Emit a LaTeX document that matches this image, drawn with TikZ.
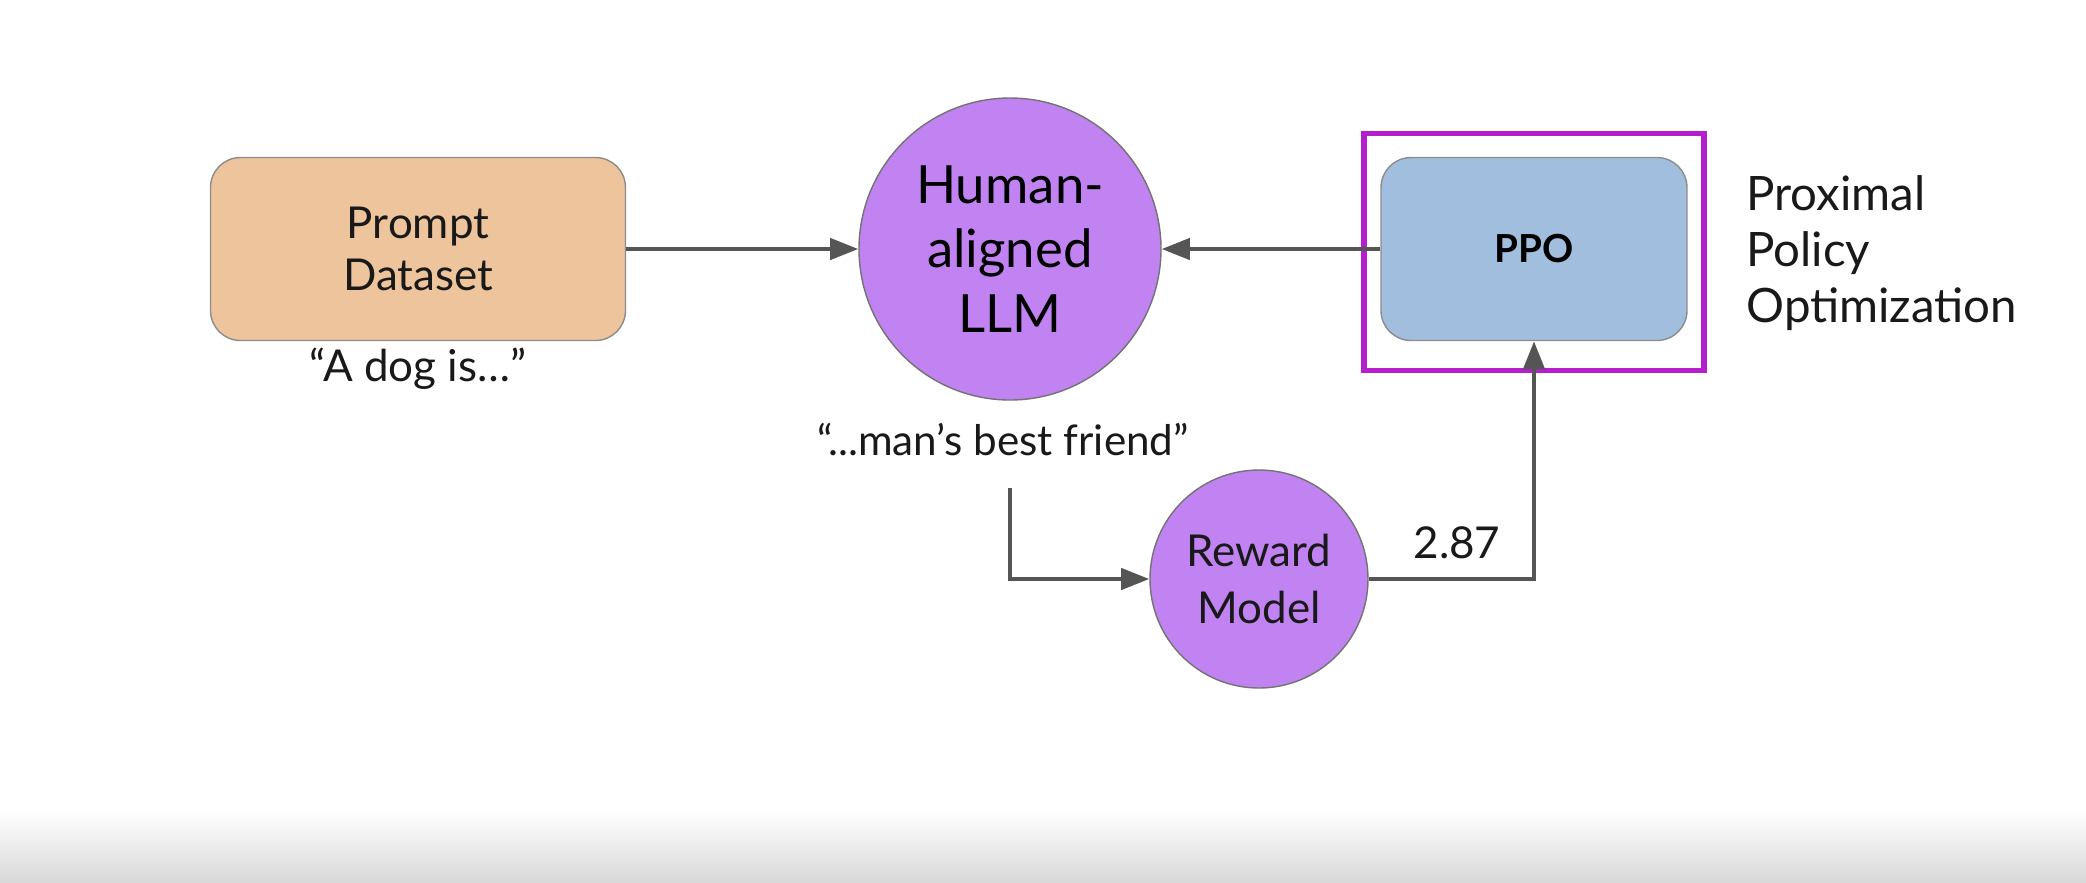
\documentclass[tikz,border=0pt]{standalone}
\usepackage{fontspec}
\setmainfont{Lato}
\usepackage{xcolor}
\usetikzlibrary{arrows.meta, positioning}
\definecolor{promptfill}{HTML}{EDC49C}
\definecolor{ppofill}{HTML}{A2BEDE}
\definecolor{llmfill}{HTML}{C182F2}
\definecolor{hilite}{HTML}{B41ECC}
\definecolor{edgegray}{HTML}{555555}

\begin{document}
\begin{tikzpicture}[>={Triangle[length=8pt, width=6pt]},
  box/.style={draw=black!45, rounded corners=0.3cm, align=center},
  bubble/.style={circle, draw=black!55, fill=llmfill, align=center, inner sep=0pt},
  arr/.style={->, draw=edgegray, line width=1.2pt},
  lbl/.style={font=\fontsize{12.5}{15}\selectfont, text=black!90}]
  \useasboundingbox (0,0) rectangle (20.86,-8.82);
  \shade[top color=white, bottom color=black!15] (0,-8.1) rectangle (20.86,-8.82);   % fade at the bottom
  % the three blocks of the loop
  \node[box, lbl, fill=promptfill, minimum width=4.15cm, minimum height=1.83cm] (prompt) at (4.18,-2.49) {Prompt\\Dataset};
  \node[bubble, minimum size=3.02cm, font=\fontsize{15}{18.3}\selectfont] (llm) at (10.10,-2.49) {Human-\\aligned\\LLM};
  \node[box, fill=ppofill, minimum width=3.06cm, minimum height=1.83cm, font=\fontsize{11}{13}\bfseries] (ppo) at (15.34,-2.49) {PPO};
  \node[draw=hilite, line width=1.6pt, minimum width=3.40cm, minimum height=2.37cm] (frame) at ([yshift=-0.03cm]ppo.center) {};
  \node[bubble, lbl, minimum size=2.18cm, font=\fontsize{12.5}{16}\selectfont] (rm) at (12.59,-5.79) {Reward\\Model};
  % texts beside them
  \node[lbl] (prompttxt) at (4.18,-3.69) {“A dog is…”};
  \node[lbl, font=\fontsize{12}{15}\selectfont] (answer) at (10.03,-4.40) {“...man’s best friend”};
  \node[lbl, anchor=west, align=left, font=\fontsize{13.5}{15.9}\selectfont] (pponame) at (17.34,-2.53) {Proximal\\Policy\\Optimization};
  \node[lbl] (score) at (14.57,-5.43) {2.87};
  % connectors
  \coordinate (tap) at (10.10,-4.88);
  \draw[arr] (prompt) -- (llm);
  \draw[arr] (ppo) -- (llm);
  \draw[arr] (tap) |- (rm);
  \draw[arr] (rm) -| (ppo);
\end{tikzpicture}
\end{document}
